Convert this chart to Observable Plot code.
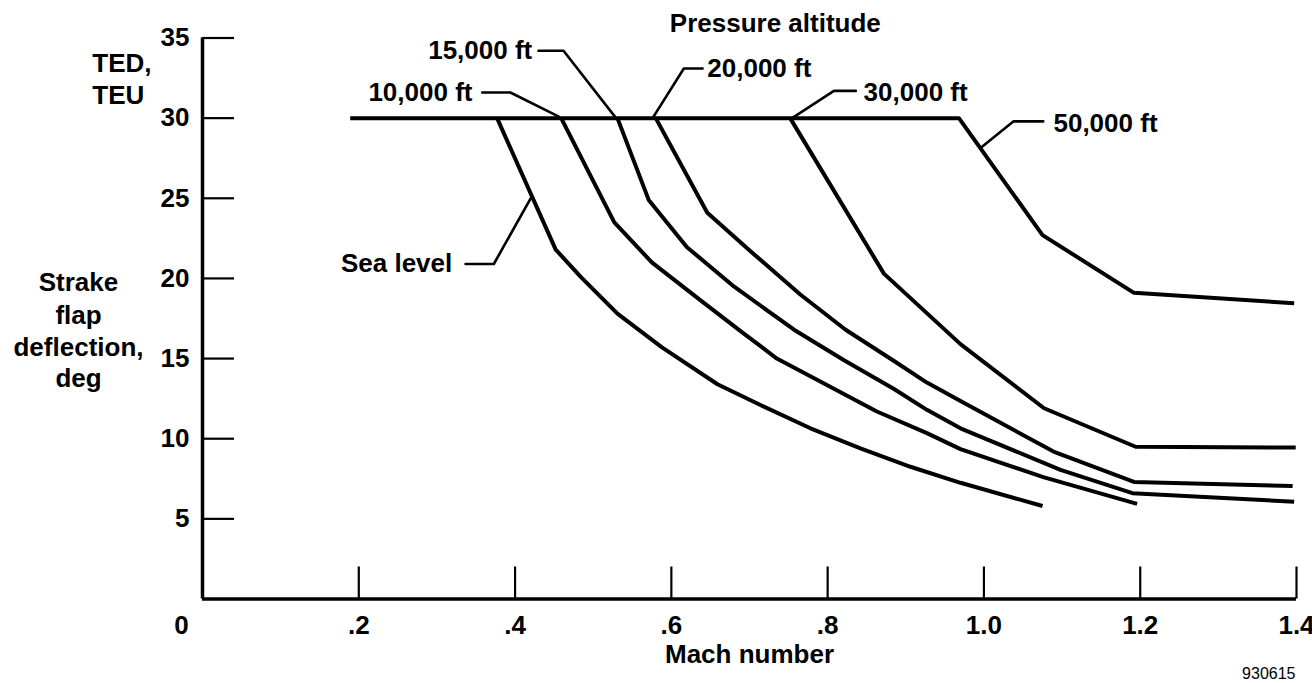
<!DOCTYPE html>
<html>
<head>
<meta charset="utf-8">
<script src="https://cdn.jsdelivr.net/npm/d3@7"></script>
<script src="https://cdn.jsdelivr.net/npm/@observablehq/plot@0.6"></script>
<style>
  html, body { margin: 0; padding: 0; background: #fff; }
  svg { display: block; }
</style>
</head>
<body>
<div id="chart"></div>
<script>
// ---- Data ----
const altitudes = ["Sea level", "10,000 ft", "15,000 ft", "20,000 ft", "30,000 ft", "50,000 ft"];

const machSeaLevel = [0.377, 0.452, 0.484, 0.531, 0.588, 0.659, 0.714, 0.778, 0.842, 0.906, 0.970, 1.075];
const deflSeaLevel = [30, 21.8, 20.1, 17.8, 15.7, 13.4, 12.1, 10.65, 9.4, 8.25, 7.25, 5.8];

const mach10k = [0.459, 0.527, 0.575, 0.637, 0.689, 0.735, 0.799, 0.863, 0.927, 0.970, 1.076, 1.196];
const defl10k = [30, 23.5, 21.0, 18.65, 16.7, 15.0, 13.35, 11.7, 10.35, 9.35, 7.6, 5.93];

const mach15k = [0.531, 0.571, 0.620, 0.680, 0.757, 0.821, 0.885, 0.927, 0.970, 1.098, 1.190, 1.397];
const defl15k = [30, 24.9, 21.95, 19.5, 16.8, 14.9, 13.1, 11.8, 10.65, 8.05, 6.6, 6.07];

const mach20k = [0.580, 0.646, 0.706, 0.765, 0.823, 0.885, 0.927, 0.970, 1.089, 1.192, 1.395];
const defl20k = [30, 24.1, 21.5, 19.0, 16.8, 14.85, 13.5, 12.35, 9.2, 7.3, 7.05];

const mach30k = [0.752, 0.872, 0.970, 1.077, 1.194, 1.399];
const defl30k = [30, 20.3, 15.9, 11.9, 9.5, 9.45];

// the shared 30-deg line runs into the 50,000 ft curve
const mach50k = [0.189, 0.968, 1.075, 1.192, 1.397];
const defl50k = [30, 30, 22.7, 19.1, 18.45];

const yTicks = [5, 10, 15, 20, 25, 30, 35];
const yTickLabels = ["5", "10", "15", "20", "25", "30", "35"];
const xTicks = [0.2, 0.4, 0.6, 0.8, 1.0, 1.2, 1.4];
const xTickLabels = [".2", ".4", ".6", ".8", "1.0", "1.2", "1.4"];

// ---- Build tables ----
const seriesMach = [machSeaLevel, mach10k, mach15k, mach20k, mach30k, mach50k];
const seriesDefl = [deflSeaLevel, defl10k, defl15k, defl20k, defl30k, defl50k];
const rows = altitudes.flatMap((alt, k) =>
  seriesMach[k].map((m, i) => ({alt, mach: m, defl: seriesDefl[k][i]})));

// Layout
const W = 1312, H = 683;
const mL = 202, mR = 16, mT = 37.5, mB = 84.5;
const pxPerMach = (W - mL - mR) / 1.4;
const pxPerDeg = (H - mT - mB) / 35;
const tickLenX = 32 / pxPerMach; // y-axis tick length in Mach units
const tickLenY = 32 / pxPerDeg;  // x-axis tick length in degree units

// Annotation leaders (label callouts), in data coordinates
const leaders = [
  {alt: "Sea level", pts: [[0.3366, 20.9], [0.3728, 20.9], [0.420, 25.0]]},
  {alt: "10,000 ft", pts: [[0.358, 31.6], [0.394, 31.6], [0.456, 30.1]]},
  {alt: "15,000 ft", pts: [[0.430, 34.2], [0.462, 34.2], [0.5285, 30.05]]},
  {alt: "20,000 ft", pts: [[0.640, 33.1], [0.616, 33.1], [0.576, 30.0]]},
  {alt: "30,000 ft", pts: [[0.836, 31.7], [0.808, 31.7], [0.756, 30.05]]},
  {alt: "50,000 ft", pts: [[1.076, 29.8], [1.038, 29.8], [0.996, 28.15]]}
];
const leaderRows = leaders.flatMap(l => l.pts.map(([x, y]) => ({alt: l.alt, x, y})));

const labelsEnd = [
  {text: "Sea level", x: 0.3196, y: 20.9},
  {text: "10,000 ft", x: 0.3455, y: 31.6},
  {text: "15,000 ft", x: 0.422, y: 34.2}
];
const labelsStart = [
  {text: "20,000 ft", x: 0.646, y: 33.1},
  {text: "30,000 ft", x: 0.846, y: 31.6},
  {text: "50,000 ft", x: 1.089, y: 29.65},
  {text: "TED,", x: -0.141, y: 33.4},
  {text: "TEU", x: -0.141, y: 31.4}
];
const labelsMiddle = [
  {text: "Pressure altitude", x: 0.733, y: 35.9},
  {text: "Strake", x: -0.1587, y: 19.74},
  {text: "flap", x: -0.1587, y: 17.69},
  {text: "deflection,", x: -0.1587, y: 15.65},
  {text: "deg", x: -0.1587, y: 13.76},
  {text: "Mach number", x: 0.700, y: -3.5}
];

const font = "'Liberation Sans', Arial, Helvetica, sans-serif";
const txt = {lineAnchor: "middle", fontSize: 26, fontWeight: "bold", fill: "#000"};

const chart = Plot.plot({
  width: W,
  height: H,
  marginLeft: mL,
  marginRight: mR,
  marginTop: mT,
  marginBottom: mB,
  x: {domain: [0, 1.4], axis: null},
  y: {domain: [0, 35], axis: null},
  style: {fontFamily: font, background: "#fff", color: "#000", overflow: "visible"},
  marks: [
    // axes
    Plot.ruleX([0], {y1: 0, y2: 35, stroke: "#000", strokeWidth: 3.5}),
    Plot.ruleY([0], {x1: 0, x2: 1.4, stroke: "#000", strokeWidth: 3.5}),
    Plot.ruleY(yTicks, {y: d => d, x1: 0, x2: tickLenX, stroke: "#000", strokeWidth: 2.2}),
    Plot.ruleX(xTicks, {x: d => d, y1: 0, y2: tickLenY, stroke: "#000", strokeWidth: 2.2}),
    Plot.text(yTicks, {x: 0, y: d => d, text: (d, i) => yTickLabels[i], dx: -13, textAnchor: "end", ...txt}),
    Plot.text(xTicks, {x: d => d, y: 0, text: (d, i) => xTickLabels[i], dy: 27, textAnchor: "middle", ...txt}),
    Plot.text(["0"], {x: 0, y: 0, text: d => d, dx: -21, dy: 27, textAnchor: "middle", ...txt}),
    // curves
    Plot.line(rows, {x: "mach", y: "defl", z: "alt", stroke: "#000", strokeWidth: 4,
      strokeLinejoin: "round", strokeLinecap: "butt"}),
    // leaders
    Plot.line(leaderRows, {x: "x", y: "y", z: "alt", stroke: "#000", strokeWidth: 2.6}),
    // labels
    Plot.text(labelsEnd, {x: "x", y: "y", text: "text", textAnchor: "end", ...txt}),
    Plot.text(labelsStart, {x: "x", y: "y", text: "text", textAnchor: "start", ...txt}),
    Plot.text(labelsMiddle, {x: "x", y: "y", text: "text", textAnchor: "middle", ...txt}),
    Plot.text(["930615"], {x: 1.4, y: 0, text: d => d, dy: 75, dx: -1, textAnchor: "end",
      lineAnchor: "middle", fontSize: 16, fill: "#000"})
  ]
});

document.getElementById("chart").appendChild(chart);
</script>
</body>
</html>
